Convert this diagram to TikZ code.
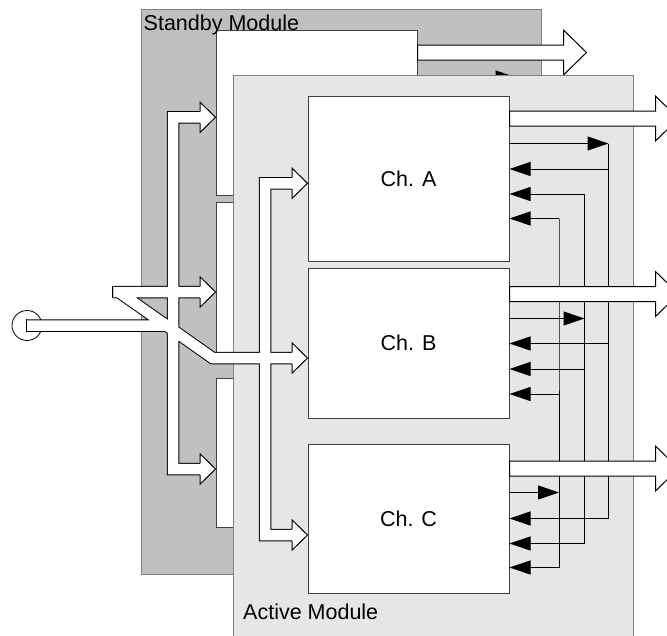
\documentclass[tikz,border=0pt]{standalone}
\usepackage{fontspec}
\setmainfont{Liberation Sans}
\usetikzlibrary{arrows.meta}
\definecolor{sbfill}{HTML}{C0C0C0}
\definecolor{acfill}{HTML}{E6E6E6}

\begin{document}
\begin{tikzpicture}[x=1pt,y=-1pt,>={Triangle[length=21pt,width=14pt]},font=\fontsize{21.5}{25}\selectfont]
  \tikzstyle{module}=[draw=black!50,line width=1pt]
  \tikzstyle{chbox}=[draw=black!75,fill=white,line width=1pt,minimum width=201pt,minimum height=165pt,inner sep=0pt]
  \tikzstyle{fbline}=[line width=1pt]
  \tikzstyle{outarrow}=[draw,fill=white,line width=1pt]
  \tikzstyle{bus}=[double=white,double distance=10.5pt,line width=1pt,line join=miter]
  \tikzset{bushead/.pic={\draw[fill=white,line width=1pt] (-15.3,-5.75) -- (-15.3,-15) -- (0,0) -- (-15.3,15) -- (-15.3,5.75);}}
  \path[use as bounding box,clip] (0,0) rectangle (667,635);
  % standby module first, active module drawn over it
  \foreach \m/\sx/\sy in {sb/-92/-66,ac/0/0}{
    \begin{scope}[shift={(\sx,\sy)}]
      \draw[module,fill=\m fill] (233,75) rectangle (633,640);
      \node[chbox] (\m A) at (408.5,178.5) {Ch. A};
      \node[chbox,minimum height=150pt] (\m B) at (408.5,343) {Ch. B};
      \node[chbox,minimum height=149pt] (\m C) at (408.5,518.5) {Ch. C};
      % cross links between the channels
      \foreach \vx/\src/\yout/\yina/\yinb/\yinc in {608.5/A/143.5/169/343.5/518.5,584.5/B/318.5/194/369/543.5,559/C/492.5/218.5/394/567.5}{
        \draw[fbline,->] (\m\src.east |- 0,\yout) -- (\vx,\yout);
        \draw[fbline] (\vx,\yout) -- (\vx,\yina) -- (\vx,\yinc);
        \draw[fbline,->] (\vx,\yina) -- (\m A.east |- 0,\yina);
        \draw[fbline,->] (\vx,\yinb) -- (\m B.east |- 0,\yinb);
        \draw[fbline,->] (\vx,\yinc) -- (\m C.east |- 0,\yinc);
      }
      % outputs
      \foreach \ch/\yo in {A/118.5,B/294,C/468.5}
        \draw[outarrow] (\m\ch.east |- 0,\yo) ++(0,-7.5) -- ++(146,0) -- ++(0,-15) -- ++(23,22.5) -- ++(-23,22.5) -- ++(0,-15) -- ++(-146,0) -- cycle;
    \end{scope}
  }
  \node[anchor=base west,inner sep=0pt] (sblabel) at (143.5,30.7) {Standby Module};
  \node[anchor=base west,inner sep=0pt] (aclabel) at (243,619) {Active Module};
  % input bus
  \node[draw,circle,line width=0.8pt,minimum size=30pt,inner sep=0pt] (in) at (27,325.5) {};
  \coordinate (split) at (166.5,325.5);
  \coordinate (acjoin) at (212.6,358);
  \coordinate (sbjoin) at (118.7,292);
  \draw[bus] (in.center) -- (split) -- (acjoin) -- (292.7,358)
    (292.7,183.3) -| (265.2,535) -- (292.7,535)
    (split) -- (sbjoin)
    (113.3,292) -- (200.7,292)
    (200.7,117.3) -| (173.2,469) -- (200.7,469);
  \draw[line width=1pt] (26.5,319.25) -- (26.5,331.75) (112.8,285.75) -- (112.8,298.25);
  \foreach \tgt/\yo in {acA/183.3,acB/358,acC/535,sbA/117.3,sbB/292,sbC/469}
    \pic at (\tgt.west |- 0,\yo) {bushead};
\end{tikzpicture}
\end{document}
